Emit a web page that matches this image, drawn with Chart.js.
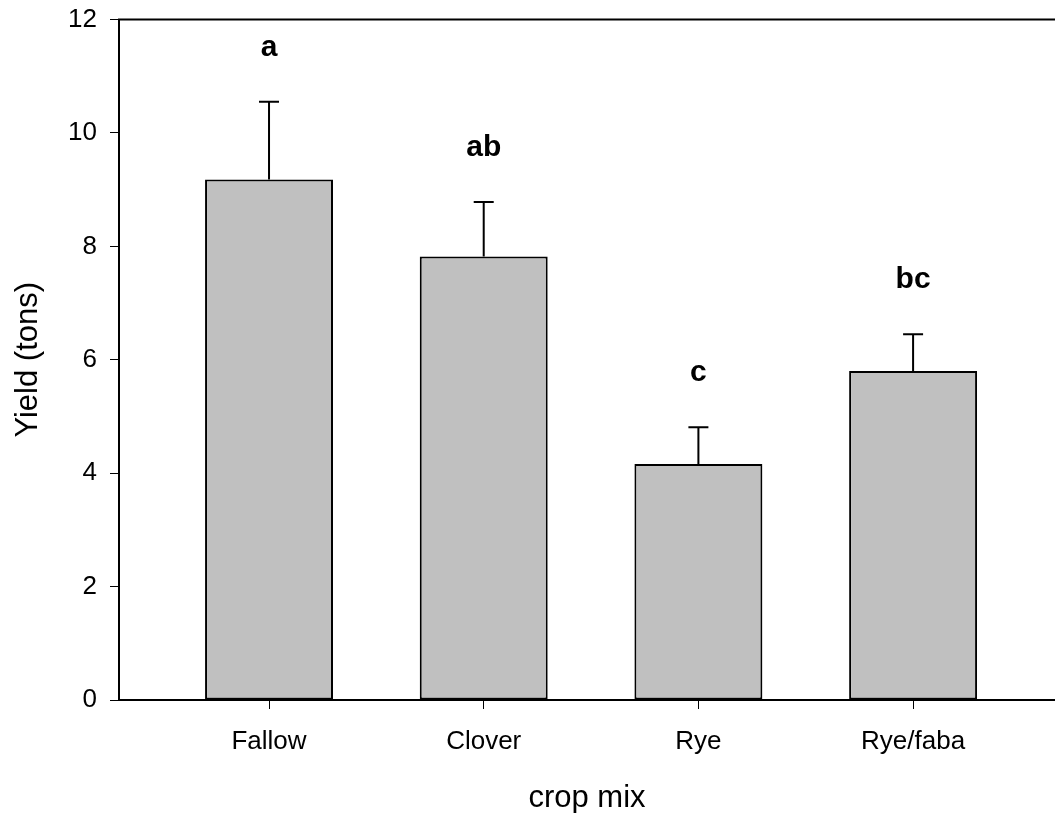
<!DOCTYPE html>
<html>
<head>
<meta charset="utf-8">
<script src="https://cdn.jsdelivr.net/npm/chart.js@4/dist/chart.umd.min.js"></script>
<style>
html,body{margin:0;padding:0;background:#fff;overflow:hidden;}
#wrap{width:1055px;height:813px;}
</style>
</head>
<body>
<div id="wrap"><canvas id="c" width="1055" height="813"></canvas></div>
<script>
// ---- data ----
const categories = ["Fallow", "Clover", "Rye", "Rye/faba"];
const yieldMeans = [9.18, 7.82, 4.16, 5.80];
const yieldErrors = [1.37, 0.96, 0.65, 0.65];
const groupLetters = ["a", "ab", "c", "bc"];
const yTicks = [0, 2, 4, 6, 8, 10, 12];

const FONT = "'Liberation Sans', Arial, Helvetica, sans-serif";

const points = categories.map((c, i) => ({ x: i + 1, y: yieldMeans[i] }));

const extras = {
  id: 'extras',
  afterDatasetsDraw(chart) {
    const { ctx, chartArea, scales } = chart;
    const xs = scales.x, ys = scales.y;
    ctx.save();
    // top frame line
    ctx.strokeStyle = '#000';
    ctx.lineWidth = 2;
    ctx.beginPath();
    ctx.moveTo(chartArea.left - 1, chartArea.top);
    ctx.lineTo(chartArea.right, chartArea.top);
    ctx.stroke();
    // error bars and letters
    categories.forEach((c, i) => {
      const px = xs.getPixelForValue(i + 1);
      const y0 = ys.getPixelForValue(yieldMeans[i]);
      const y1 = ys.getPixelForValue(yieldMeans[i] + yieldErrors[i]);
      ctx.lineWidth = 2;
      ctx.beginPath();
      ctx.moveTo(px, y0);
      ctx.lineTo(px, y1);
      ctx.moveTo(px - 10, y1);
      ctx.lineTo(px + 10, y1);
      ctx.stroke();
      ctx.fillStyle = '#000';
      ctx.font = "bold 30px " + FONT;
      ctx.textAlign = 'center';
      ctx.textBaseline = 'alphabetic';
      ctx.fillText(groupLetters[i], px, y1 - 46);
    });
    ctx.restore();
  }
};

new Chart(document.getElementById('c'), {
  type: 'bar',
  data: {
    datasets: [{
      data: points,
      backgroundColor: '#c0c0c0',
      borderColor: '#000',
      borderWidth: 2,
      borderSkipped: false,
      barPercentage: 0.596,
      categoryPercentage: 1.0
    }]
  },
  options: {
    responsive: false,
    animation: false,
    layout: { padding: { top: 19.5, right: 0, left: 0, bottom: 0 } },
    plugins: { legend: { display: false }, tooltip: { enabled: false } },
    scales: {
      x: {
        type: 'linear',
        offset: false,
        min: 0.3012,
        max: 4.661,
        afterFit: s => { s.height = 113; s.paddingLeft = 0; s.paddingRight = 0; },
        afterBuildTicks: s => { s.ticks = categories.map((c, i) => ({ value: i + 1 })); },
        border: { display: true, color: '#000', width: 2 },
        grid: { offset: false, drawOnChartArea: false, drawTicks: true, tickLength: 9, tickColor: '#000', tickWidth: 1 },
        ticks: {
          color: '#000',
          font: { family: FONT, size: 26 },
          padding: 17,
          autoSkip: false,
          maxRotation: 0,
          callback: v => categories[v - 1] || ''
        },
        title: {
          display: true,
          text: 'crop mix',
          color: '#000',
          font: { family: FONT, size: 31 },
          padding: { top: 0, bottom: -4 }
        }
      },
      y: {
        min: 0,
        max: 12,
        afterFit: s => { s.width = 119; s.paddingTop = 0; s.paddingBottom = 0; },
        afterBuildTicks: s => { s.ticks = yTicks.map(v => ({ value: v })); },
        border: { display: true, color: '#000', width: 2 },
        grid: { drawOnChartArea: false, drawTicks: true, tickLength: 9, tickColor: '#000', tickWidth: 1 },
        ticks: {
          color: '#000',
          font: { family: FONT, size: 26 },
          padding: 13
        },
        title: {
          display: true,
          text: 'Yield (tons)',
          color: '#000',
          font: { family: FONT, size: 31 },
          padding: { top: 10, bottom: 0 }
        }
      }
    }
  },
  plugins: [extras]
});
</script>
</body>
</html>
